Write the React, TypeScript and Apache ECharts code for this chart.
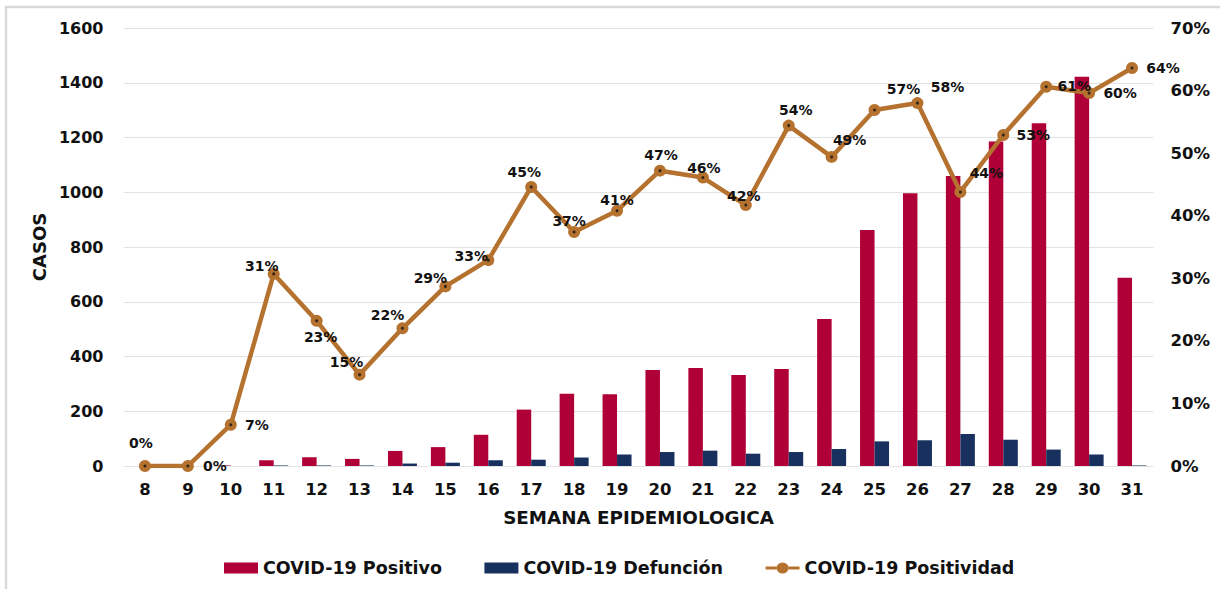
import React, { useEffect, useRef } from "react";
import * as echarts from "echarts";

const weeks = ["8","9","10","11","12","13","14","15","16","17","18","19","20","21","22","23","24","25","26","27","28","29","30","31"];
const positivo = [0,0,2,21,32,26,55,69,114,206,264,262,351,358,332,354,537,862,996,1059,1185,1252,1422,688];
const defuncion = [0,0,0,2,2,2,9,12,21,23,31,42,51,56,45,51,62,90,94,117,96,60,42,2];
const positividad = [0,0,6.6,30.7,23.2,14.6,22.0,28.7,32.9,44.6,37.4,40.8,47.2,46.1,41.7,54.4,49.4,56.9,58.0,43.8,52.9,60.6,59.6,63.6];
const leftTicks = { min: 0, max: 1600, interval: 200 };
const rightTicks = { min: 0, max: 70, interval: 10 };

// label offsets (px) relative to each point, a style setting, kept apart from the data
const labelOffsets: [number, number][] = [
  [-4,-23],[27,0],[26,0],[-12,-8],[4,16],[-13,-13],[-15,-13],[-15,-8],[-17,-4],[-7,-15],[-5,-11],[0,-11],
  [1,-16],[1,-10],[-2,-9],[7,-16],[18,-17],[29,-21],[30,-16],[26,-19],[30,0],[28,-1],[31,0],[31,0],
];

const RED = "#AF0037";
const BLUE = "#17305E";
const BROWN = "#B5722F";
const FONT = "DejaVu Sans";
const LINE_ICON =
  "path://M0,4 H11 V7 H0 Z M23,4 H34 V7 H23 Z M11,5.5 A6,5.5 0 1,1 23,5.5 A6,5.5 0 1,1 11,5.5 Z";

export default function App() {
  const ref = useRef<HTMLDivElement>(null);
  useEffect(() => {
    if (!ref.current) return;
    const chart = echarts.init(ref.current, undefined, { renderer: "svg" });
    const lineData = positividad.map((v, i) => ({
      value: v,
      label: { offset: labelOffsets[i] },
    }));
    chart.setOption({
      animation: false,
      backgroundColor: "#ffffff",
      textStyle: { fontFamily: FONT },
      graphic: [
        {
          type: "rect",
          z: -10,
          shape: { x: 6, y: 7, width: 1400, height: 800 },
          style: { fill: "none", stroke: "#d9d9d9", lineWidth: 2.5 },
        },
      ],
      grid: { left: 123.5, right: 66.5, top: 28, bottom: 123 },
      legend: {
        left: 219,
        top: 554,
        itemGap: 42.5,
        itemWidth: 34,
        itemHeight: 11,
        data: [
          { name: "COVID-19 Positivo", icon: "rect" },
          { name: "COVID-19 Defunción", icon: "rect" },
          { name: "COVID-19 Positividad", icon: LINE_ICON },
        ],
        textStyle: { fontFamily: FONT, fontWeight: "bold", fontSize: 17.5, color: "#111" },
      },
      xAxis: {
        type: "category",
        data: weeks,
        axisTick: { show: false },
        axisLine: { show: false },
        axisLabel: { fontFamily: FONT, fontWeight: "bold", fontSize: 16.5, color: "#111", margin: 15 },
        name: "SEMANA EPIDEMIOLOGICA",
        nameLocation: "middle",
        nameGap: 42,
        nameTextStyle: { fontFamily: FONT, fontWeight: "bold", fontSize: 18.3, color: "#111" },
      },
      yAxis: [
        {
          type: "value",
          ...leftTicks,
          axisLabel: {
            fontFamily: FONT,
            fontWeight: "bold",
            fontSize: 16,
            color: "#111",
            margin: 20,
            formatter: (v: number) => String(v),
          },
          splitLine: { lineStyle: { color: "#e3e3e3", width: 1 } },
          axisLine: { show: false },
          axisTick: { show: false },
          name: "CASOS",
          nameLocation: "middle",
          nameGap: 74,
          nameRotate: 90,
          nameTextStyle: { fontFamily: FONT, fontWeight: "bold", fontSize: 18, color: "#111" },
        },
        {
          type: "value",
          ...rightTicks,
          position: "right",
          axisLabel: { fontFamily: FONT, fontWeight: "bold", fontSize: 16.5, color: "#111", margin: 17, formatter: "{value}%" },
          splitLine: { show: false },
          axisLine: { show: false },
          axisTick: { show: false },
        },
      ],
      series: [
        {
          name: "COVID-19 Positivo",
          type: "bar",
          data: positivo,
          barWidth: 14.5,
          barGap: "0%",
          itemStyle: { color: RED },
        },
        {
          name: "COVID-19 Defunción",
          type: "bar",
          data: defuncion,
          barWidth: 14.5,
          barGap: "0%",
          itemStyle: { color: BLUE },
        },
        {
          name: "COVID-19 Positividad",
          type: "line",
          yAxisIndex: 1,
          data: lineData,
          symbol: "circle",
          symbolSize: 12,
          lineStyle: { color: BROWN, width: 4.5 },
          itemStyle: { color: BROWN },
          z: 5,
          label: {
            show: true,
            position: "inside",
            formatter: (p: any) => Math.round(p.value) + "%",
            fontFamily: FONT,
            fontWeight: "bold",
            fontSize: 14,
            color: "#111",
          },
        },
        {
          name: "dots",
          type: "scatter",
          yAxisIndex: 1,
          data: positividad,
          symbol: "circle",
          symbolSize: 3,
          itemStyle: { color: "#111" },
          silent: true,
          z: 6,
        },
      ],
    });
    return () => chart.dispose();
  }, []);
  return (
    <div
      ref={ref}
      style={{ position: "absolute", left: 0, top: 0, width: 1220, height: 589 }}
    />
  );
}
